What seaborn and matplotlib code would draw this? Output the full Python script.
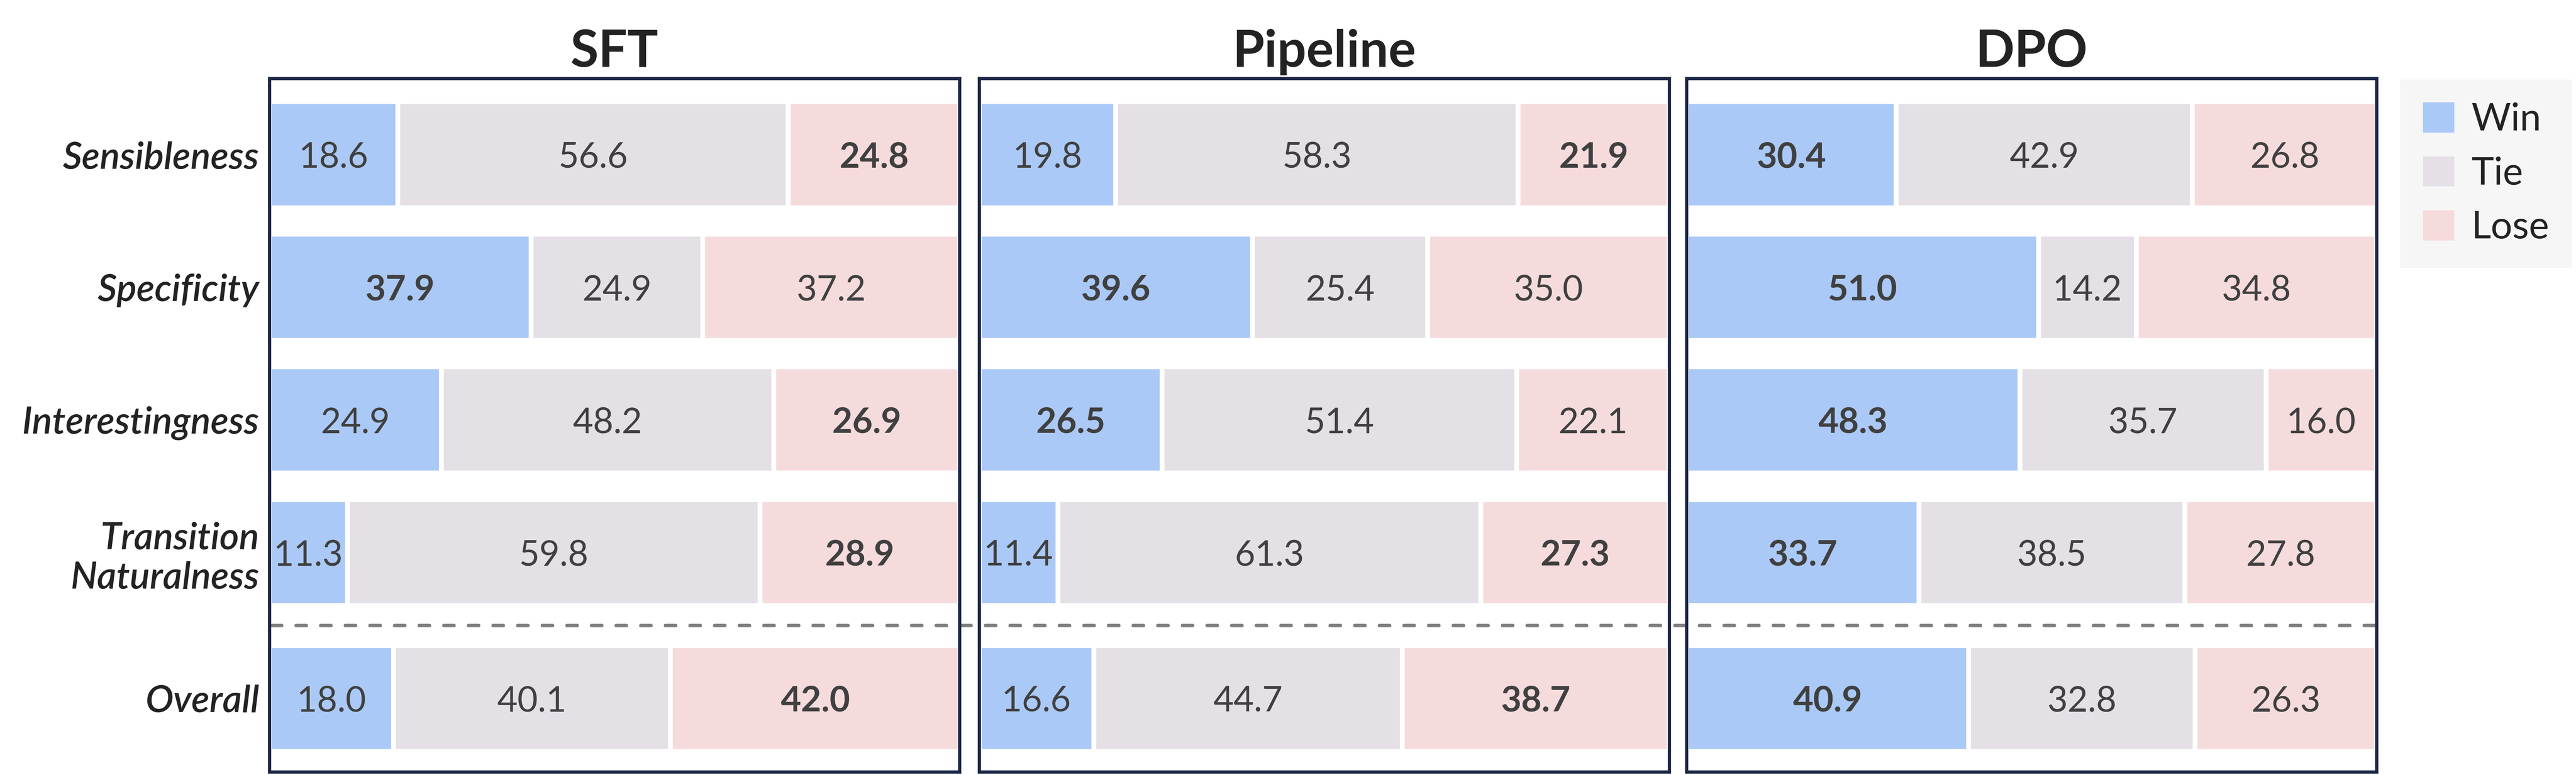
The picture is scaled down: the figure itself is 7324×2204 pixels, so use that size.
import numpy as np
import pandas as pd
import matplotlib
matplotlib.use("Agg")
import matplotlib.pyplot as plt
import seaborn as sns
from matplotlib.patches import Patch

# ---------------- data ----------------
metrics = ["Sensibleness", "Specificity", "Interestingness",
           "Transition\nNaturalness", "Overall"]
models = ["SFT", "Pipeline", "DPO"]
outcomes = ["Win", "Tie", "Lose"]

sft_win = [18.6, 37.9, 24.9, 11.3, 18.0]
sft_tie = [56.6, 24.9, 48.2, 59.8, 40.1]
sft_lose = [24.8, 37.2, 26.9, 28.9, 42.0]

pipe_win = [19.8, 39.6, 26.5, 11.4, 16.6]
pipe_tie = [58.3, 25.4, 51.4, 61.3, 44.7]
pipe_lose = [21.9, 35.0, 22.1, 27.3, 38.7]

dpo_win = [30.4, 51.0, 48.3, 33.7, 40.9]
dpo_tie = [42.9, 14.2, 35.7, 38.5, 32.8]
dpo_lose = [26.8, 34.8, 16.0, 27.8, 26.3]

values = {
    "SFT": (sft_win, sft_tie, sft_lose),
    "Pipeline": (pipe_win, pipe_tie, pipe_lose),
    "DPO": (dpo_win, dpo_tie, dpo_lose),
}

# ---------------- style ----------------
WIN_C = "#abc9f6"
TIE_C = "#e4e0e6"
LOSE_C = "#f6dbdd"
SPINE_C = "#1c2747"
NUM_C = "#404040"
LABEL_C = "#232323"

row_pos = [0, 1, 2, 3, 4.1]
sep_y = 3.55

sns.set_theme(style="white")
plt.rcParams["font.family"] = ["Lato", "DejaVu Sans"]

W, H = 7324, 2204
DPI = 300
fig = plt.figure(figsize=(W / DPI, H / DPI), dpi=DPI, facecolor="white")

ax_lefts = [766, 2784, 4795]
ax_w = 1962
ax_top, ax_bot = 223, 2195

axes = []
for i, model in enumerate(models):
    ax = fig.add_axes([ax_lefts[i] / W, 1 - ax_bot / H, ax_w / W, (ax_bot - ax_top) / H])
    ax.set_facecolor("none")
    axes.append(ax)
    win, tie, lose = values[model]
    df = pd.DataFrame({
        "pos": row_pos,
        "win": win, "tie": tie, "lose": lose,
    })
    df["c_win"] = df["win"]
    df["c_tie"] = df["win"] + df["tie"]
    df["c_lose"] = df["win"] + df["tie"] + df["lose"]

    for col, color in [("c_lose", LOSE_C), ("c_tie", TIE_C), ("c_win", WIN_C)]:
        sns.barplot(data=df, x=col, y="pos", orient="y", native_scale=True,
                    color=color, saturation=1, width=0.8, errorbar=None,
                    edgecolor="white", linewidth=3.3, ax=ax)

    for j in range(len(df)):
        w_, t_, l_ = df.loc[j, "win"], df.loc[j, "tie"], df.loc[j, "lose"]
        y = df.loc[j, "pos"]
        centers = [w_ / 2, w_ + t_ / 2, w_ + t_ + l_ / 2]
        vals = [w_, t_, l_]
        bold = [w_ > l_, False, l_ > w_]
        for c, v, b in zip(centers, vals, bold):
            ax.text(c, y, f"{v:.1f}", ha="center", va="center_baseline",
                    fontsize=24, color=NUM_C,
                    fontweight="bold" if b else "normal")

    ax.set_xlim(0, 100)
    ax.set_ylim(4.653, -0.575)
    ax.set_xlabel("")
    ax.set_ylabel("")
    ax.set_xticks([])
    if i == 0:
        ax.set_yticks(row_pos)
        ax.set_yticklabels(metrics, fontsize=25.5, fontstyle="italic",
                           fontweight="semibold", color=LABEL_C)
        ax.tick_params(axis="y", length=0, pad=7)
    else:
        ax.set_yticks([])
    for s in ax.spines.values():
        s.set_visible(True)
        s.set_color(SPINE_C)
        s.set_linewidth(2.2)
        s.set_zorder(5)
    ax.set_title(model, fontsize=35, fontweight="bold", color=LABEL_C, pad=8)

# dashed separator spanning all panels
x_end = (ax_lefts[-1] + ax_w - ax_lefts[0]) / ax_w * 100
axes[0].plot([0.3, x_end - 0.3], [sep_y, sep_y], color="#808080", lw=2.4,
             linestyle=(0, (2.9, 4.1)), dash_capstyle="round",
             clip_on=False, zorder=1.5)

handles = [Patch(facecolor=c, edgecolor="none", label=n)
           for c, n in zip([WIN_C, TIE_C, LOSE_C], outcomes)]
leg = fig.legend(handles=handles, loc="upper left",
                 bbox_to_anchor=(6824 / W, 1 - 226 / H), borderaxespad=0,
                 frameon=True, fancybox=False, facecolor="#f6f6f6",
                 edgecolor="none", framealpha=1, fontsize=26,
                 handlelength=0.82, handleheight=0.84, handletextpad=0.45,
                 borderpad=0.6, labelspacing=0.5)
for t in leg.get_texts():
    t.set_color(LABEL_C)

fig.savefig("out.png", dpi=DPI, facecolor="white")
